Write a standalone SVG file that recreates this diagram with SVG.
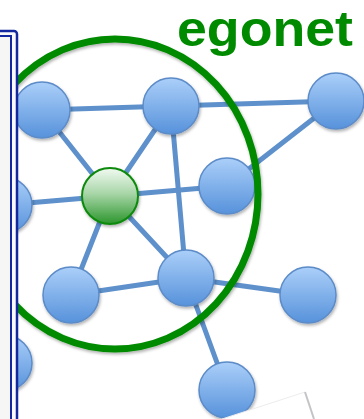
<svg xmlns="http://www.w3.org/2000/svg" width="364" height="419" viewBox="0 0 364 419">
  <defs>
    <linearGradient id="gBlue" x1="0" y1="0" x2="0" y2="1">
      <stop offset="0" stop-color="#abcff9"/>
      <stop offset="1" stop-color="#5792db"/>
    </linearGradient>
    <linearGradient id="gGreen" x1="0" y1="0" x2="0" y2="1">
      <stop offset="0" stop-color="#f2faf2"/>
      <stop offset="0.45" stop-color="#a9d6a9"/>
      <stop offset="1" stop-color="#2c962c"/>
    </linearGradient>
    <filter id="sh" x="-30%" y="-30%" width="160%" height="160%">
      <feDropShadow dx="1" dy="2" stdDeviation="1.5" flood-color="#000" flood-opacity="0.3"/>
    </filter>
  </defs>
  <style>
    .edge { stroke: #5e91cb; stroke-width: 5; stroke-linecap: round; fill: none; }
    .node { fill: url(#gBlue); stroke: #5b8bc8; stroke-width: 1.5; filter: url(#sh); }
    .ego { fill: url(#gGreen); stroke: #0b8a0b; stroke-width: 2; filter: url(#sh); }
    .egonet { fill: none; stroke: #008a00; stroke-width: 7; filter: url(#sh); }
    .title { font-family: "Liberation Sans", Arial, sans-serif; font-weight: bold; font-size: 50px; fill: #008a00; }
  </style>
  <rect width="364" height="419" fill="#ffffff"/>

  <g id="connectors">
    <line class="edge" x1="42" y1="110" x2="171" y2="106"/>
    <line class="edge" x1="42" y1="110" x2="110" y2="196"/>
    <line class="edge" x1="171" y1="106" x2="110" y2="196"/>
    <line class="edge" x1="171" y1="106" x2="336" y2="101"/>
    <line class="edge" x1="171" y1="106" x2="186" y2="278"/>
    <line class="edge" x1="110" y1="196" x2="4" y2="205"/>
    <line class="edge" x1="110" y1="196" x2="227" y2="186"/>
    <line class="edge" x1="110" y1="196" x2="71" y2="295"/>
    <line class="edge" x1="110" y1="196" x2="186" y2="278"/>
    <line class="edge" x1="336" y1="101" x2="227" y2="186"/>
    <line class="edge" x1="71" y1="295" x2="186" y2="278"/>
    <line class="edge" x1="186" y1="278" x2="308" y2="295"/>
    <line class="edge" x1="186" y1="278" x2="227" y2="390"/>
  </g>

  <g id="nodeA"><circle class="node" cx="42" cy="110" r="28"/></g>
  <g id="nodeB"><circle class="node" cx="171" cy="106" r="28"/></g>
  <g id="nodeC"><circle class="node" cx="336" cy="101" r="28"/></g>
  <g id="nodeD"><circle class="node" cx="227" cy="186" r="28"/></g>
  <g id="nodeE"><circle class="node" cx="4" cy="205" r="28"/></g>
  <g id="nodeF"><circle class="node" cx="71" cy="295" r="28"/></g>
  <g id="nodeG"><circle class="node" cx="186" cy="278" r="28"/></g>
  <g id="nodeH"><circle class="node" cx="308" cy="295" r="28"/></g>
  <g id="nodeI"><circle class="node" cx="227" cy="390" r="28"/></g>
  <g id="nodeJ"><circle class="node" cx="4" cy="363" r="28"/></g>
  <g id="ego"><circle class="ego" cx="110" cy="196" r="28"/></g>

  <g id="egonet">
    <ellipse class="egonet" cx="115" cy="194" rx="143" ry="155"/>
    <text class="title" x="177" y="46" textLength="176" lengthAdjust="spacingAndGlyphs">egonet</text>
  </g>

  <g id="frame">
    <rect x="-20" y="31" width="37" height="420" rx="3" fill="#fafafa" stroke="#13279e" stroke-width="2.5"/>
    <rect x="-20" y="36" width="31" height="420" fill="#f6f6f6" stroke="#13279e" stroke-width="2"/>
  </g>

  <g id="page-corner">
    <polygon points="222,419 305,392 314,419" fill="#ffffff"/>
    <line x1="222" y1="419" x2="305" y2="392" stroke="#ececec" stroke-width="1"/>
    <line x1="305" y1="392" x2="314" y2="419" stroke="#c4c4c8" stroke-width="2"/>
  </g>
</svg>
